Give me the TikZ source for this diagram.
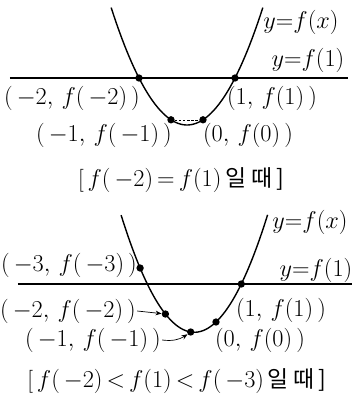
\documentclass[tikz,border=0pt]{standalone}
\usepackage{fontspec}
\newfontfamily\kor{Noto Sans CJK KR}
\usetikzlibrary{arrows.meta,positioning}

\begin{document}
\begin{tikzpicture}[x=0.03cm,y=-0.03cm]
\tikzset{
  graph/.style={line width=1.2pt},
  level/.style={line width=0.9pt},
  dot/.style={circle,fill,inner sep=0pt,minimum size=2.2mm},
  lbl/.style={inner sep=1pt,font=\fontsize{19.5}{22}\selectfont},
  pointer/.style={-{Stealth[length=1.8mm,width=1.4mm]},line width=0.6pt}
}
\useasboundingbox (0,0) rectangle (353,407);
% f(-2)=f(1)
\draw[level] (10,78) -- (348,78);
\draw[graph] plot[domain=-2.87:1.87,samples=60,smooth] ({203+32*\x},{125-20.9*(\x+0.5)^2});
\node[dot] (a_m2) at (139,78) {};
\node[dot] (a_p1) at (235,78) {};
\node[dot] (a_m1) at (171,119.8) {};
\node[dot] (a_z0) at (203,119.8) {};
\draw[dashed,line width=0.5pt,dash pattern=on 2pt off 1.5pt] (a_m1) -- (a_z0);
\node[lbl] (a_gx) at (301,22) {$y{=}f(x)$};
\node[lbl] (a_g1) at (308,60) {$y{=}f(1)$};
\node[lbl] (a_lm2) at (72,98) {$(\,-2,\,f(\,-2)\,)$};
\node[lbl] (a_lp1) at (272,98) {$(1,\,f(1)\,)$};
\node[lbl] (a_lm1) at (104,135) {$(\,-1,\,f(\,-1)\,)$};
\node[lbl] (a_lz0) at (248,135) {$(0,\,f(0)\,)$};
\node[lbl] (a_cap) at (181,180) {[\,$f(\,-2)\,{=}\,f(1)$\,\kor 일 때\,]};
% f(-2)<f(1)<f(-3)
\draw[level] (18,284) -- (352,284);
\draw[graph] plot[domain=-3.75:2.04,samples=60,smooth] ({216+25.3*\x},{322-14*\x*\x-24*\x});
\node[dot] (b_m3) at (140.1,268) {};
\node[dot] (b_m2) at (165.4,314) {};
\node[dot] (b_m1) at (190.7,332) {};
\node[dot] (b_z0) at (216,322) {};
\node[dot] (b_p1) at (241.3,284) {};
\node[lbl] (b_gx) at (310,222) {$y{=}f(x)$};
\node[lbl] (b_g1) at (316,270) {$y{=}f(1)$};
\node[lbl] (b_lm3) at (69,265) {$(\,-3,\,f(\,-3)\,)$};
\node[lbl] (b_lm2) at (68,311) {$(\,-2,\,f(\,-2)\,)$};
\node[lbl] (b_lp1) at (281,310) {$(1,\,f(1)\,)$};
\node[lbl] (b_lm1) at (93,340) {$(\,-1,\,f(\,-1)\,)$};
\node[lbl] (b_lz0) at (260,340) {$(0,\,f(0)\,)$};
\node[lbl] (b_cap) at (177,381) {[\,$f(\,-2)\,{<}\,f(1)\,{<}\,f(\,-3)$\,\kor 일 때\,]};
\draw[pointer] (b_lm2.east) -- (b_m2);
\draw[pointer] (b_lm1.east) to[bend right=20] (b_m1);
\end{tikzpicture}
\end{document}
